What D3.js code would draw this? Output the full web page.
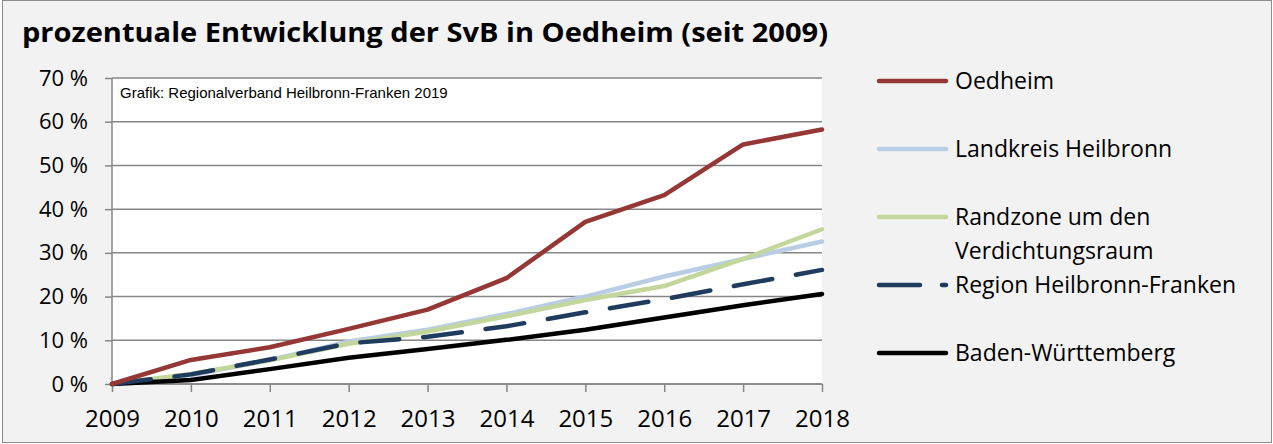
<!DOCTYPE html>
<html>
<head>
<meta charset="utf-8">
<script src="https://cdn.jsdelivr.net/npm/d3@7"></script>
<style>
  body { margin: 0; background: #fff; }
  svg { display: block; }
  .tick text { font-family: "Open Sans", Lato, sans-serif; }
</style>
</head>
<body>
<div id="chart"></div>
<script>
// years on the x axis
var years = [2009, 2010, 2011, 2012, 2013, 2014, 2015, 2016, 2017, 2018];

// series values in percent
var oedheim    = [0, 5.5, 8.4, 12.6, 17.0, 24.2, 37.1, 43.2, 54.8, 58.2];
var landkreis  = [0, 2.0, 5.5, 9.7, 12.4, 16.0, 20.0, 24.6, 28.6, 32.6];
var randzone   = [0, 2.3, 5.4, 9.2, 12.0, 15.5, 19.2, 22.4, 28.6, 35.4];
var region     = [0, 2.2, 5.6, 9.3, 10.8, 13.2, 16.4, 19.4, 22.8, 26.1];
var bw         = [0, 0.9, 3.4, 6.0, 8.0, 10.1, 12.4, 15.2, 18.0, 20.6];

var seriesNames = ["Oedheim", "Landkreis Heilbronn", "Randzone um den Verdichtungsraum", "Region Heilbronn-Franken", "Baden-Württemberg"];
var yTicks = [0, 10, 20, 30, 40, 50, 60, 70];

var W = 1273, H = 444;
var plot = { left: 112, right: 822, top: 78, bottom: 384 };

var series = [
    { name: seriesNames[1], values: landkreis, color: "#b9cde5", dash: null },
    { name: seriesNames[2], values: randzone, color: "#c3d69b", dash: null },
    { name: seriesNames[4], values: bw, color: "#000000", dash: null },
    { name: seriesNames[3], values: region, color: "#1f3b5e", dash: "39,24" },
    { name: seriesNames[0], values: oedheim, color: "#953735", dash: null }
];

var svg = d3.select("#chart").append("svg")
    .attr("width", W)
    .attr("height", H);

// outer chart area with border
svg.append("rect")
    .attr("x", 2.5).attr("y", 0.5)
    .attr("width", W - 4).attr("height", H - 2)
    .attr("fill", "#f2f2f2")
    .attr("stroke", "#8c8c8c")
    .attr("stroke-width", 1);

// title
svg.append("text")
    .attr("x", 22).attr("y", 42)
    .attr("font-family", "'Open Sans', Lato, sans-serif")
    .attr("font-weight", "bold")
    .attr("font-size", 26)
    .attr("textLength", 806)
    .attr("lengthAdjust", "spacingAndGlyphs")
    .attr("fill", "#000")
    .text("prozentuale Entwicklung der SvB in Oedheim (seit 2009)");

var x = d3.scalePoint()
    .domain(years)
    .range([plot.left, plot.right]);

var y = d3.scaleLinear()
    .domain([0, 70])
    .range([plot.bottom, plot.top]);

// white plot area
svg.append("rect")
    .attr("x", plot.left).attr("y", plot.top)
    .attr("width", plot.right - plot.left)
    .attr("height", plot.bottom - plot.top)
    .attr("fill", "#fff");

// horizontal gridlines
svg.append("g")
    .selectAll("line")
    .data(yTicks)
    .enter()
    .append("line")
    .attr("x1", plot.left).attr("x2", plot.right)
    .attr("y1", function(d) { return y(d); })
    .attr("y2", function(d) { return y(d); })
    .attr("stroke", "#868686")
    .attr("stroke-width", 1.5);

// y axis
var yAxis = d3.axisLeft(y)
    .tickValues(yTicks)
    .tickSize(7)
    .tickPadding(17)
    .tickFormat(function(d) { return d + " %"; });

var gy = svg.append("g")
    .attr("transform", "translate(" + plot.left + ",0)")
    .call(yAxis);
gy.selectAll("text").attr("font-size", 22).attr("fill", "#000");
gy.selectAll("line, path").attr("stroke", "#868686").attr("stroke-width", 1.5);
gy.select(".domain").attr("d", "M0," + plot.top + "V" + plot.bottom);

// x axis
var xAxis = d3.axisBottom(x)
    .tickSize(8)
    .tickPadding(18);

var gx = svg.append("g")
    .attr("transform", "translate(0," + plot.bottom + ")")
    .call(xAxis);
gx.selectAll("text")
    .attr("font-size", 24)
    .attr("fill", "#000");
gx.selectAll("line, path").attr("stroke", "#868686").attr("stroke-width", 1.5);
gx.select(".domain").attr("d", "M" + plot.left + ",0H" + plot.right);

// source note
svg.append("text")
    .attr("x", 120).attr("y", 98)
    .attr("font-family", "'Liberation Sans', Arial, sans-serif")
    .attr("font-size", 15)
    .attr("fill", "#000")
    .text("Grafik: Regionalverband Heilbronn-Franken 2019");

// lines
var line = d3.line()
    .x(function(d, i) { return x(years[i]); })
    .y(function(d) { return y(d); });

svg.append("g")
    .selectAll("path")
    .data(series)
    .enter()
    .append("path")
    .attr("d", function(d) { return line(d.values); })
    .attr("fill", "none")
    .attr("stroke", function(d) { return d.color; })
    .attr("stroke-width", 4.5)
    .attr("stroke-linejoin", "round")
    .attr("stroke-linecap", "round")
    .attr("stroke-dasharray", function(d) { return d.dash; });

// legend
var legendItems = [
    { lines: ["Oedheim"], color: "#953735", dash: null, y: 81 },
    { lines: ["Landkreis Heilbronn"], color: "#b9cde5", dash: null, y: 149 },
    { lines: ["Randzone um den", "Verdichtungsraum"], color: "#c3d69b", dash: null, y: 217 },
    { lines: ["Region Heilbronn-Franken"], color: "#1f3b5e", dash: "41,22", y: 285 },
    { lines: ["Baden-Württemberg"], color: "#000000", dash: null, y: 353 }
];

var legend = svg.append("g").selectAll("g")
    .data(legendItems)
    .enter()
    .append("g");

legend.append("line")
    .attr("x1", 879).attr("x2", 946)
    .attr("y1", function(d) { return d.y; })
    .attr("y2", function(d) { return d.y; })
    .attr("stroke", function(d) { return d.color; })
    .attr("stroke-width", 4.5)
    .attr("stroke-linecap", "round")
    .attr("stroke-dasharray", function(d) { return d.dash; });

legend.each(function(d) {
    var t = d3.select(this).append("text")
        .attr("x", 955)
        .attr("y", d.y + 8)
        .attr("font-family", "'Open Sans', Lato, sans-serif")
        .attr("font-size", 23)
        .attr("fill", "#000");
    d.lines.forEach(function(s, i) {
        t.append("tspan")
            .attr("x", 955)
            .attr("dy", i === 0 ? 0 : 34)
            .text(s);
    });
});
</script>
</body>
</html>
